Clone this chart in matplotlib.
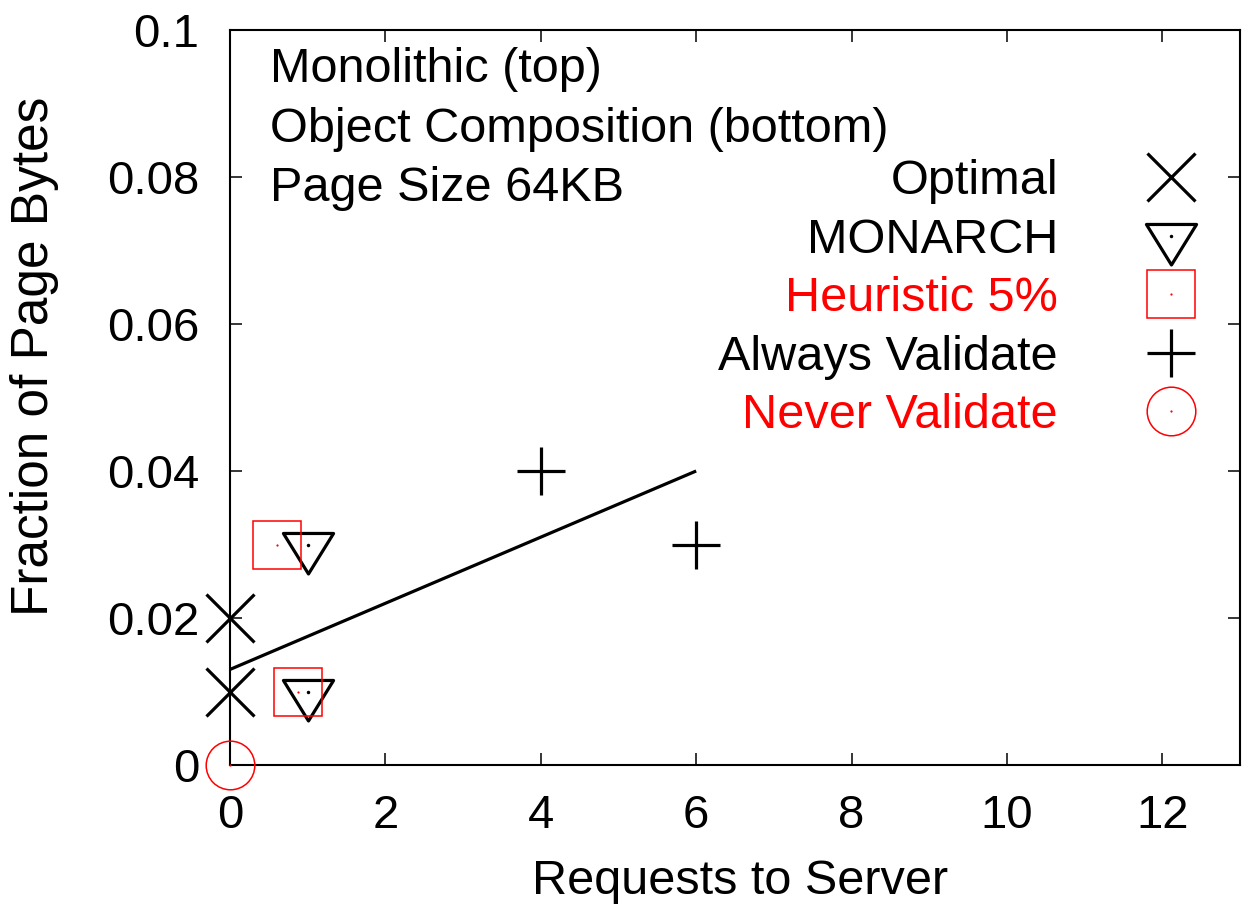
import matplotlib
matplotlib.use('Agg')
import matplotlib.pyplot as plt
from matplotlib.path import Path
from matplotlib.legend_handler import HandlerTuple
from matplotlib.ticker import FixedLocator, FixedFormatter

plt.rcParams['font.family'] = ['Liberation Sans', 'DejaVu Sans']

# ---- data ----
optimal_x = [0, 0]
optimal_y = [0.02, 0.01]
monarch_x = [1, 1]
monarch_y = [0.03, 0.01]
heuristic_x = [0.6, 0.88]
heuristic_y = [0.03, 0.01]
always_x = [4, 6]
always_y = [0.04, 0.03]
never_x = [0]
never_y = [0]
fit_x = [0, 6]
fit_y = [0.013, 0.04]

x_ticks = [0, 2, 4, 6, 8, 10, 12]
x_tick_labels = ['0', '2', '4', '6', '8', '10', '12']
y_ticks = [0, 0.02, 0.04, 0.06, 0.08, 0.1]
y_tick_labels = ['0', '0.02', '0.04', '0.06', '0.08', '0.1']

series_labels = ['Optimal', 'MONARCH', 'Heuristic 5%', 'Always Validate', 'Never Validate']
label_colors = ['black', 'black', 'red', 'black', 'red']
notes = ['Monolithic (top)', 'Object Composition (bottom)', 'Page Size 64KB']

# ---- figure ----
fig = plt.figure(figsize=(12.46, 9.15), dpi=100)
ax = fig.add_axes([230/1246, 150/915, 1010/1246, 735/915])
ax.set_xlim(0, 13)
ax.set_ylim(0, 0.1)

tri = Path([(-25, 12), (25, 12), (0, -28.4), (-25, 12)],
           [Path.MOVETO, Path.LINETO, Path.LINETO, Path.CLOSEPOLY])

ax.plot(fit_x, fit_y, color='black', lw=2.3, solid_capstyle='butt', zorder=2)

h_opt, = ax.plot(optimal_x, optimal_y, ls='none', marker='x', ms=34, mew=2.3,
                 color='black', clip_on=False, zorder=3)
h_mon, = ax.plot(monarch_x, monarch_y, ls='none', marker=tri, ms=41, mew=2.3,
                 mfc='none', mec='black', clip_on=False, zorder=3)
d_mon, = ax.plot(monarch_x, monarch_y, ls='none', marker='o', ms=2.5, mew=0,
                 color='black', clip_on=False, zorder=4)
h_heu, = ax.plot(heuristic_x, heuristic_y, ls='none', marker='s', ms=34.5, mew=1.1,
                 mfc='none', mec='red', clip_on=False, zorder=3)
d_heu, = ax.plot(heuristic_x, heuristic_y, ls='none', marker='o', ms=1.6, mew=0,
                 color='red', clip_on=False, zorder=4)
h_alw, = ax.plot(always_x, always_y, ls='none', marker='+', ms=34, mew=2.3,
                 color='black', clip_on=False, zorder=3)
h_nev, = ax.plot(never_x, never_y, ls='none', marker='o', ms=35, mew=1.1,
                 mfc='none', mec='red', clip_on=False, zorder=3)
d_nev, = ax.plot(never_x, never_y, ls='none', marker='o', ms=1.6, mew=0,
                 color='red', clip_on=False, zorder=4)

# axes styling
for s in ax.spines.values():
    s.set_linewidth(1.5)
ax.xaxis.set_major_locator(FixedLocator(x_ticks))
ax.xaxis.set_major_formatter(FixedFormatter(x_tick_labels))
ax.yaxis.set_major_locator(FixedLocator(y_ticks))
ax.yaxis.set_major_formatter(FixedFormatter(y_tick_labels))
ax.tick_params(direction='in', length=8.5, width=1.1, top=True, right=True)
ax.tick_params(axis='x', labelsize=34, pad=21)
ax.tick_params(axis='y', labelsize=34, pad=22)

ax.set_xlabel('Requests to Server', fontsize=35, va='baseline')
ax.xaxis.set_label_coords((740 - 230) / 1010, (765 - 894) / 735)
ax.set_ylabel('Fraction of Page Bytes', fontsize=37, va='baseline')
ax.yaxis.set_label_coords((48 - 230) / 1010, (765 - 356) / 735)

# notes
for i, t in enumerate(notes):
    ax.text((270 - 230) / 1010, (765 - (82 + 59.5 * i)) / 735, t, fontsize=35,
            ha='left', va='baseline', transform=ax.transAxes)

# legend
handles = [h_opt, (h_mon, d_mon), (h_heu, d_heu), h_alw, (h_nev, d_nev)]
leg = ax.legend(handles, series_labels, loc='upper right',
                bbox_to_anchor=((1220 - 230) / 1010, (765 - 159) / 735),
                markerfirst=False, frameon=False, fontsize=35,
                handlelength=2.0, handletextpad=1.33, labelspacing=0.28,
                borderpad=0, borderaxespad=0,
                handler_map={tuple: HandlerTuple(ndivide=1, pad=0)})
for txt, c in zip(leg.get_texts(), label_colors):
    txt.set_color(c)

fig.savefig('out.png', dpi=100)
